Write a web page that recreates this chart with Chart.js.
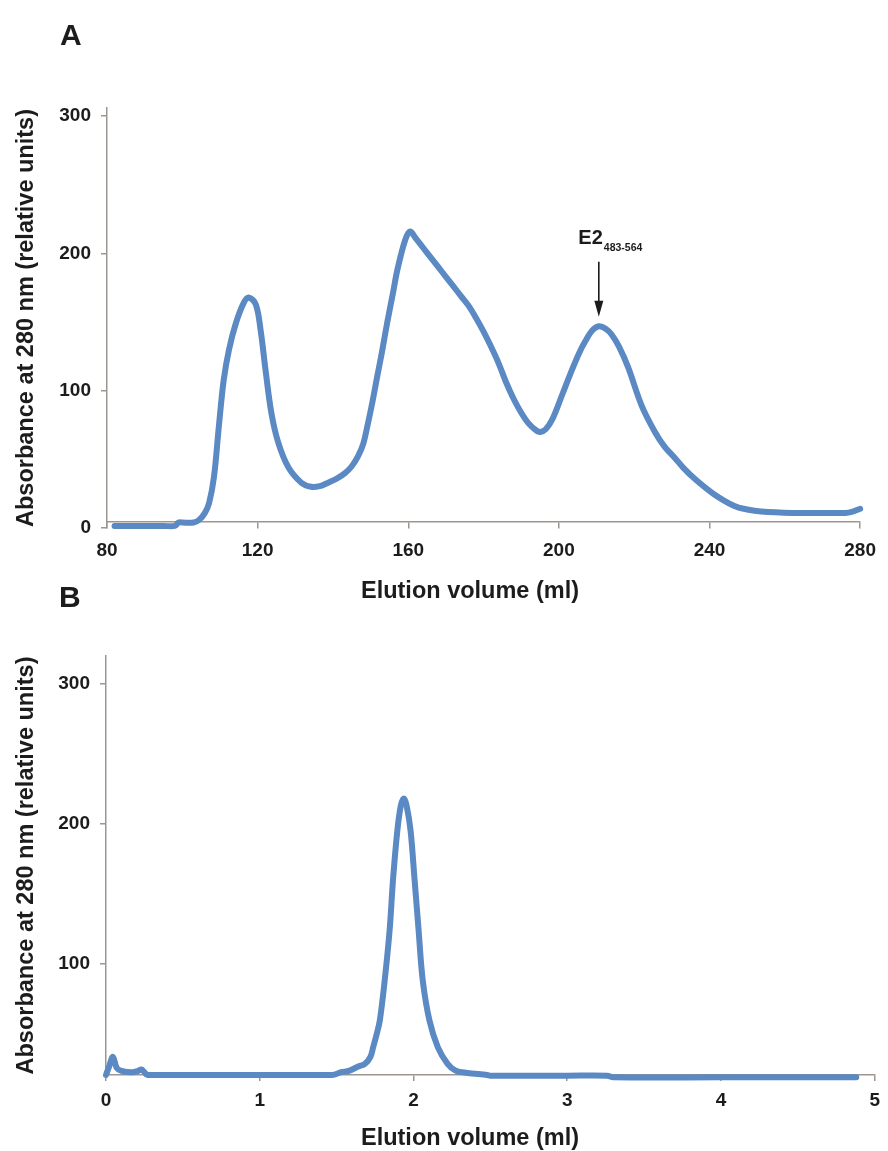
<!DOCTYPE html>
<html>
<head>
<meta charset="utf-8">
<script src="https://cdn.jsdelivr.net/npm/chart.js@4/dist/chart.umd.min.js"></script>
<style>
  html, body { margin: 0; padding: 0; background: #ffffff; }
  #page { position: relative; width: 888px; height: 1151px; overflow: hidden; }
  #chartA { position: absolute; left: 0; top: 0; }
  #chartB { position: absolute; left: 0; top: 570px; }
</style>
</head>
<body>
<div id="page">
  <canvas id="chartA" width="888" height="610"></canvas>
  <canvas id="chartB" width="888" height="581"></canvas>
</div>
<script>
// Panel A: preparative gel filtration (elution volume in ml, A280 in relative units)
const volumeA = [82, 85, 90, 95, 98, 99, 100, 103, 104.5, 106,
  107.1, 108.4, 109.7, 111, 112.4, 114.2, 116.3, 117.6, 119.5, 120.8,
  122.1, 123.7, 125.5, 128.2, 131.6, 134.2, 136.5, 138.7, 141, 143.2,
  145, 146.6, 148, 149.2, 150.5, 151.8, 153, 154.5, 156, 157.1,
  159.2, 160.5, 162, 164, 166, 168, 170, 172, 174, 176,
  178, 180, 182, 184, 186, 188, 190, 192, 194, 195,
  196.5, 198.4, 201, 203, 205.3, 207, 208.9, 210.6, 212.5, 214,
  216, 218.4, 222, 225.5, 228, 230.8, 233, 236, 241, 246.6,
  250, 253.7, 262, 271, 276, 278, 280];
const absorbanceA = [1.5, 1.5, 1.5, 1.5, 1.5, 4, 4, 4, 6, 11,
  18, 37, 74, 108, 130, 149, 164, 168, 163, 144,
  115, 83, 62, 44, 33, 30, 30.5, 33, 36, 40,
  45, 52, 61, 75, 92, 111, 128, 151, 172, 188,
  210, 216, 211, 204, 197, 190, 183, 176, 169, 162,
  153, 143, 132, 120, 106, 94, 84, 76, 71, 70,
  72, 80, 98, 112, 127, 136, 144, 147, 145, 141,
  132, 117, 89, 70, 59.5, 51, 44, 36, 25, 16,
  13.5, 12, 11, 11, 11, 12, 14];
const ticksXA = [80, 120, 160, 200, 240, 280];
const ticksYA = [0, 100, 200, 300];

// Panel B: analytical run of the pooled peak
const volumeB = [0, 0.02, 0.045, 0.07, 0.1, 0.17, 0.21, 0.23, 0.25, 0.27,
  0.6, 1.0, 1.47, 1.53, 1.58, 1.64, 1.684, 1.72, 1.738, 1.76,
  1.781, 1.813, 1.845, 1.867, 1.895, 1.918, 1.938, 1.955, 1.981, 2.007,
  2.033, 2.06, 2.104, 2.158, 2.222, 2.276, 2.35, 2.48, 2.5, 3.0,
  3.26, 3.3, 4.0, 4.88];
const absorbanceB = [20, 26, 33, 25, 23, 22, 23, 24, 22, 20,
  20, 20, 20, 22, 23, 26, 28, 33, 40, 49,
  59, 88, 124, 160, 195, 213, 218, 213, 195, 160,
  124, 88, 59, 40, 28, 23, 21.5, 20, 19.5, 19.5,
  19.5, 18.3, 18.3, 18.3];
const ticksXB = [0, 1, 2, 3, 4, 5];
const ticksYB = [100, 200, 300];

// Arrow marking the E2 fragment peak in panel A
const peakMarker = { x: 210.6, tip: 154, tail: 194, name: 'E2', sub: '483-564' };

const INK = '#1c1c1c';
const AXIS = '#9d958f';
const TRACE = '#5a89c4';
const FONT = '"Liberation Sans", Arial, Helvetica, sans-serif';
const Y_TITLE = 'Absorbance at 280 nm (relative units)';
const X_TITLE = 'Elution volume (ml)';

function points(xs, ys) {
  return xs.map((v, i) => ({ x: v, y: ys[i] }));
}

function fixedTicks(values) {
  return scale => { scale.ticks = values.map(v => ({ value: v })); };
}

// Panel letter, x-axis caption and the optional peak arrow
const captions = {
  id: 'captions',
  afterDraw(chart, args, opts) {
    const ctx = chart.ctx;
    ctx.save();
    ctx.fillStyle = INK;
    ctx.textBaseline = 'alphabetic';
    ctx.textAlign = 'left';
    ctx.font = 'bold 30px ' + FONT;
    ctx.fillText(opts.letter, opts.letterX, opts.letterY);

    ctx.textAlign = 'center';
    ctx.font = 'bold 23.5px ' + FONT;
    ctx.fillText(X_TITLE, opts.titleX, opts.titleY);

    if (opts.marker) {
      const m = opts.marker;
      const ax = chart.scales.x.getPixelForValue(m.x);
      const tipY = chart.scales.y.getPixelForValue(m.tip);
      const tailY = chart.scales.y.getPixelForValue(m.tail);
      ctx.strokeStyle = INK;
      ctx.lineWidth = 1.6;
      ctx.beginPath();
      ctx.moveTo(ax, tailY);
      ctx.lineTo(ax, tipY - 12);
      ctx.stroke();
      ctx.beginPath();
      ctx.moveTo(ax - 4.5, tipY - 16);
      ctx.lineTo(ax + 4.5, tipY - 16);
      ctx.lineTo(ax, tipY);
      ctx.closePath();
      ctx.fill();

      ctx.textAlign = 'right';
      ctx.font = 'bold 20px ' + FONT;
      ctx.fillText(m.name, ax + 4, tailY - 18);
      ctx.textAlign = 'left';
      ctx.font = 'bold 10.5px ' + FONT;
      ctx.fillText(m.sub, ax + 5, tailY - 11);
    }
    ctx.restore();
  }
};

function yAxis(min, max, values, width) {
  return {
    type: 'linear',
    position: 'left',
    min: min,
    max: max,
    afterBuildTicks: fixedTicks(values),
    afterFit: s => { s.width = width; },
    grid: { display: true, drawOnChartArea: false, drawTicks: true, tickLength: 6, color: AXIS, lineWidth: 1.5 },
    border: { display: true, color: AXIS, width: 1.5 },
    ticks: { color: INK, padding: 10, font: { family: FONT, size: 19, weight: 'bold' } },
    title: { display: true, text: Y_TITLE, color: INK, padding: { top: 12, bottom: 0 },
             font: { family: FONT, size: 23.5, weight: 'bold', lineHeight: 1.2 } }
  };
}

function xAxis(min, max, values, position, pad, height) {
  const axis = {
    type: 'linear',
    position: position,
    min: min,
    max: max,
    afterBuildTicks: fixedTicks(values),
    grid: { display: true, drawOnChartArea: false, drawTicks: true, tickLength: 6, color: AXIS, lineWidth: 1.5 },
    border: { display: true, color: AXIS, width: 1.5 },
    ticks: { color: INK, padding: pad, maxRotation: 0, font: { family: FONT, size: 19, weight: 'bold' } },
    title: { display: false }
  };
  if (height) axis.afterFit = s => { s.height = height; };
  return axis;
}

function trace(xs, ys) {
  return {
    data: points(xs, ys),
    borderColor: TRACE,
    borderWidth: 6,
    pointRadius: 0,
    tension: 0.35,
    borderJoinStyle: 'round',
    borderCapStyle: 'round',
    fill: false,
    clip: false
  };
}

const common = {
  responsive: false,
  animation: false,
  events: [],
  plugins: { legend: { display: false }, tooltip: { enabled: false } }
};

new Chart(document.getElementById('chartA'), {
  type: 'line',
  data: { datasets: [trace(volumeA, absorbanceA)] },
  options: Object.assign({}, common, {
    layout: { padding: { left: 0, right: 21, top: 108, bottom: 82 } },
    scales: {
      x: xAxis(80, 280, ticksXA, { y: 4.5 }, 12, null),
      y: yAxis(0, 306, ticksYA, 107)
    },
    plugins: Object.assign({}, common.plugins, {
      captions: { letter: 'A', letterX: 60, letterY: 45, titleX: 470, titleY: 598, marker: peakMarker }
    })
  }),
  plugins: [captions]
});

new Chart(document.getElementById('chartB'), {
  type: 'line',
  data: { datasets: [trace(volumeB, absorbanceB)] },
  options: Object.assign({}, common, {
    layout: { padding: { left: 0, right: 8, top: 86, bottom: 0 } },
    scales: {
      x: xAxis(0, 5, ticksXB, 'bottom', 8, 76),
      y: yAxis(20, 320, ticksYB, 106)
    },
    plugins: Object.assign({}, common.plugins, {
      captions: { letter: 'B', letterX: 59, letterY: 37, titleX: 470, titleY: 575, marker: null }
    })
  }),
  plugins: [captions]
});
</script>
</body>
</html>
